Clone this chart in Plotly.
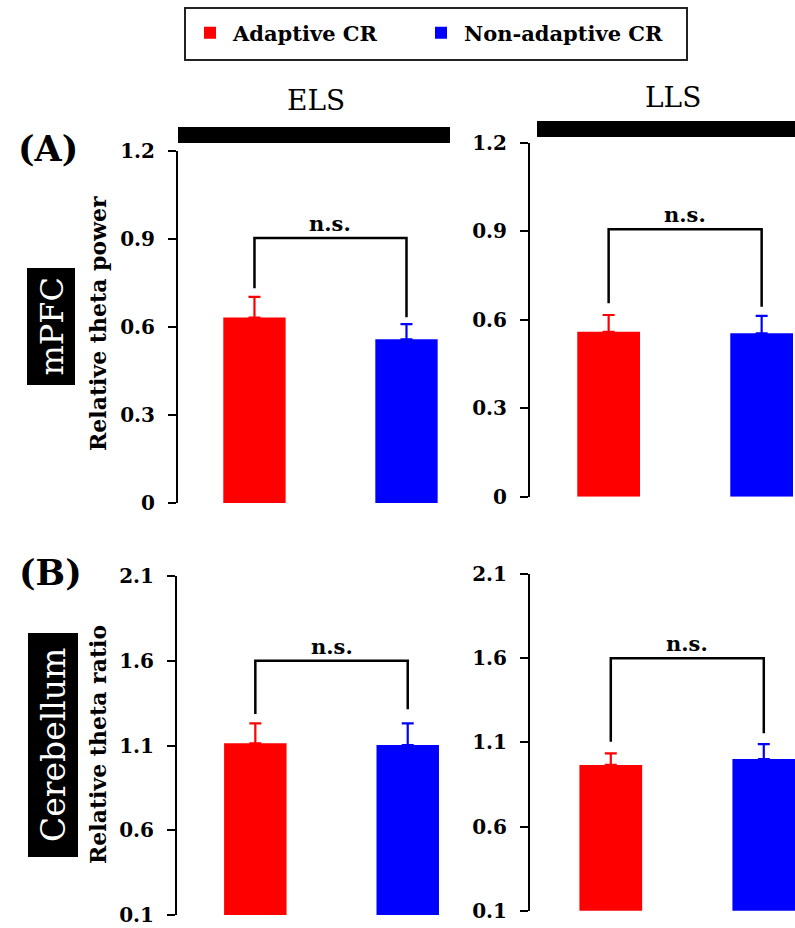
import plotly.graph_objects as go

# ---------------- data ----------------
groups = ["Adaptive CR", "Non-adaptive CR"]
stages = ["ELS", "LLS"]
regions = ["mPFC", "Cerebellum"]
y_titles = ["Relative theta power", "Relative theta ratio"]
panel_tags = ["(A)", "(B)"]

# order: mPFC-ELS, mPFC-LLS, Cerebellum-ELS, Cerebellum-LLS
adaptive_mean = [0.632, 0.559, 1.113, 0.966]
adaptive_sem = [0.071, 0.057, 0.118, 0.069]
nonadaptive_mean = [0.558, 0.554, 1.103, 1.001]
nonadaptive_sem = [0.052, 0.059, 0.128, 0.089]

bracket_top = [0.903, 0.907, 1.60, 1.60]
bracket_left_bottom = [0.732, 0.656, 1.286, 1.104]
bracket_right_bottom = [0.633, 0.644, 1.314, 1.154]
sig_labels = ["n.s.", "n.s.", "n.s.", "n.s."]

mpfc_ticks = [0, 0.3, 0.6, 0.9, 1.2]
mpfc_ticklabels = ["0", "0.3", "0.6", "0.9", "1.2"]
cereb_ticks = [0.1, 0.6, 1.1, 1.6, 2.1]
cereb_ticklabels = ["0.1", "0.6", "1.1", "1.6", "2.1"]

colors = ["#FF0000", "#0000FF"]

W, H = 795, 928
SERIF = "DejaVu Serif"


def px(x):
    return x / W


def py(y):
    return 1 - y / H


fig = go.Figure()

# panel geometry (pixels): x-domain, y-domain(bottom, top), x-range
panels = [
    dict(xd=(178, 460), yd=(503, 151), xr=(-0.503, 1.352), yr=(0, 1.2), ticks=mpfc_ticks, tl=mpfc_ticklabels),
    dict(xd=(530, 795), yd=(496.7, 142.7), xr=(-0.514, 1.218), yr=(0, 1.2), ticks=mpfc_ticks, tl=mpfc_ticklabels),
    dict(xd=(177, 460), yd=(915, 576), xr=(-0.514, 1.343), yr=(0.1, 2.1), ticks=cereb_ticks, tl=cereb_ticklabels),
    dict(xd=(530, 795), yd=(910.7, 574), xr=(-0.528, 1.204), yr=(0.1, 2.1), ticks=cereb_ticks, tl=cereb_ticklabels),
]

means = [adaptive_mean, nonadaptive_mean]
sems = [adaptive_sem, nonadaptive_sem]
legend_ids = ["legend", "legend2"]

annotations = []
shapes = []
layout_axes = {}

for i, p in enumerate(panels):
    sfx = "" if i == 0 else str(i + 1)
    xa, ya = "x" + sfx, "y" + sfx
    for g in range(2):
        fig.add_trace(go.Bar(
            x=[groups[g]], y=[means[g][i]],
            width=0.41,
            marker=dict(color=colors[g], line=dict(width=0)),
            error_y=dict(type="data", array=[sems[g][i]], arrayminus=[0], symmetric=False,
                         color=colors[g], thickness=2.2, width=6),
            name=groups[g], legendgroup=groups[g], showlegend=(i == 0),
            legend=legend_ids[g],
            xaxis=xa, yaxis=ya, hoverinfo="skip",
        ))
    # significance bracket
    fig.add_trace(go.Scatter(
        x=[groups[0], groups[0], groups[1], groups[1]],
        y=[bracket_left_bottom[i], bracket_top[i], bracket_top[i], bracket_right_bottom[i]],
        mode="lines", line=dict(color="black", width=2.5),
        showlegend=False, hoverinfo="skip", xaxis=xa, yaxis=ya,
    ))
    annotations.append(dict(
        x=0.5, y=bracket_top[i], xref=xa, yref=ya, text=sig_labels[i], showarrow=False,
        yanchor="bottom", yshift=0,
        font=dict(family=SERIF, size=21, color="black", weight="bold"),
    ))
    layout_axes["xaxis" + sfx] = dict(
        domain=[px(p["xd"][0]), px(p["xd"][1])], range=list(p["xr"]),
        type="category", anchor=ya, automargin=False,
        showline=False, showticklabels=False, ticks="", showgrid=False, zeroline=False,
        fixedrange=True,
    )
    layout_axes["yaxis" + sfx] = dict(
        domain=[py(p["yd"][0]), py(p["yd"][1])], range=list(p["yr"]), anchor=xa,
        automargin=False,
        showline=True, linecolor="black", linewidth=2,
        ticks="outside", ticklen=8, tickwidth=2, tickcolor="black",
        tickvals=p["ticks"], ticktext=p["tl"], ticklabelstandoff=9,
        tickfont=dict(family=SERIF, size=20, color="black", weight="bold"),
        showgrid=False, zeroline=False, fixedrange=True,
    )

# stage headers (black bars + text)
header_bars = [(178, 450, 127, 143), (537, 795, 121, 137)]
header_text_pos = [(316, 101), (672.5, 97)]
for s in range(2):
    x0, x1, y0, y1 = header_bars[s]
    shapes.append(dict(type="rect", xref="paper", yref="paper",
                       x0=px(x0), x1=px(x1), y0=py(y1), y1=py(y0),
                       fillcolor="black", line=dict(width=0)))
    annotations.append(dict(x=px(header_text_pos[s][0]), y=py(header_text_pos[s][1]),
                            xref="paper", yref="paper", text=stages[s], showarrow=False,
                            xanchor="center", yanchor="middle",
                            font=dict(family=SERIF, size=28, color="black")))

# region boxes, y titles, panel tags
region_boxes = [(27, 75, 268, 385), (28, 78, 633, 857)]
region_sizes = [32, 33]
ytitle_pos = [(98, 324), (98, 745)]
tag_pos = [(48, 148), (50, 572)]
for r in range(2):
    x0, x1, y0, y1 = region_boxes[r]
    shapes.append(dict(type="rect", xref="paper", yref="paper",
                       x0=px(x0), x1=px(x1), y0=py(y1), y1=py(y0),
                       fillcolor="black", line=dict(width=0)))
    annotations.append(dict(x=px((x0 + x1) / 2), y=py((y0 + y1) / 2), xref="paper", yref="paper",
                            text=regions[r], showarrow=False, textangle=-90,
                            xanchor="center", yanchor="middle",
                            font=dict(family=SERIF, size=region_sizes[r], color="white")))
    annotations.append(dict(x=px(ytitle_pos[r][0]), y=py(ytitle_pos[r][1]), xref="paper", yref="paper",
                            text=y_titles[r], showarrow=False, textangle=-90,
                            xanchor="center", yanchor="middle",
                            font=dict(family=SERIF, size=22, color="black", weight="bold")))
    annotations.append(dict(x=px(tag_pos[r][0]), y=py(tag_pos[r][1]), xref="paper", yref="paper",
                            text=panel_tags[r], showarrow=False,
                            xanchor="center", yanchor="middle",
                            font=dict(family=SERIF, size=35, color="black", weight="bold")))

# legend frame
shapes.append(dict(type="rect", xref="paper", yref="paper",
                   x0=px(185), x1=px(687), y0=py(60), y1=py(8),
                   line=dict(color="#222222", width=2), fillcolor="rgba(0,0,0,0)"))

legend_style = dict(orientation="h", xanchor="left", yanchor="middle",
                    bgcolor="rgba(0,0,0,0)", borderwidth=0, itemwidth=36,
                    font=dict(family=SERIF, size=21, color="black", weight="bold"),
                    itemclick=False, itemdoubleclick=False)

fig.update_layout(
    width=W, height=H,
    margin=dict(l=0, r=0, t=0, b=0, pad=0, autoexpand=False),
    paper_bgcolor="white", plot_bgcolor="white",
    barmode="overlay",
    showlegend=True,
    legend=dict(x=px(187), y=py(33), **legend_style),
    legend2=dict(x=px(418), y=py(33), **legend_style),
    shapes=shapes,
    annotations=annotations,
    **layout_axes,
)

fig.write_html("out.html", config={"displayModeBar": False},
               post_script="document.body.style.margin='0';")
